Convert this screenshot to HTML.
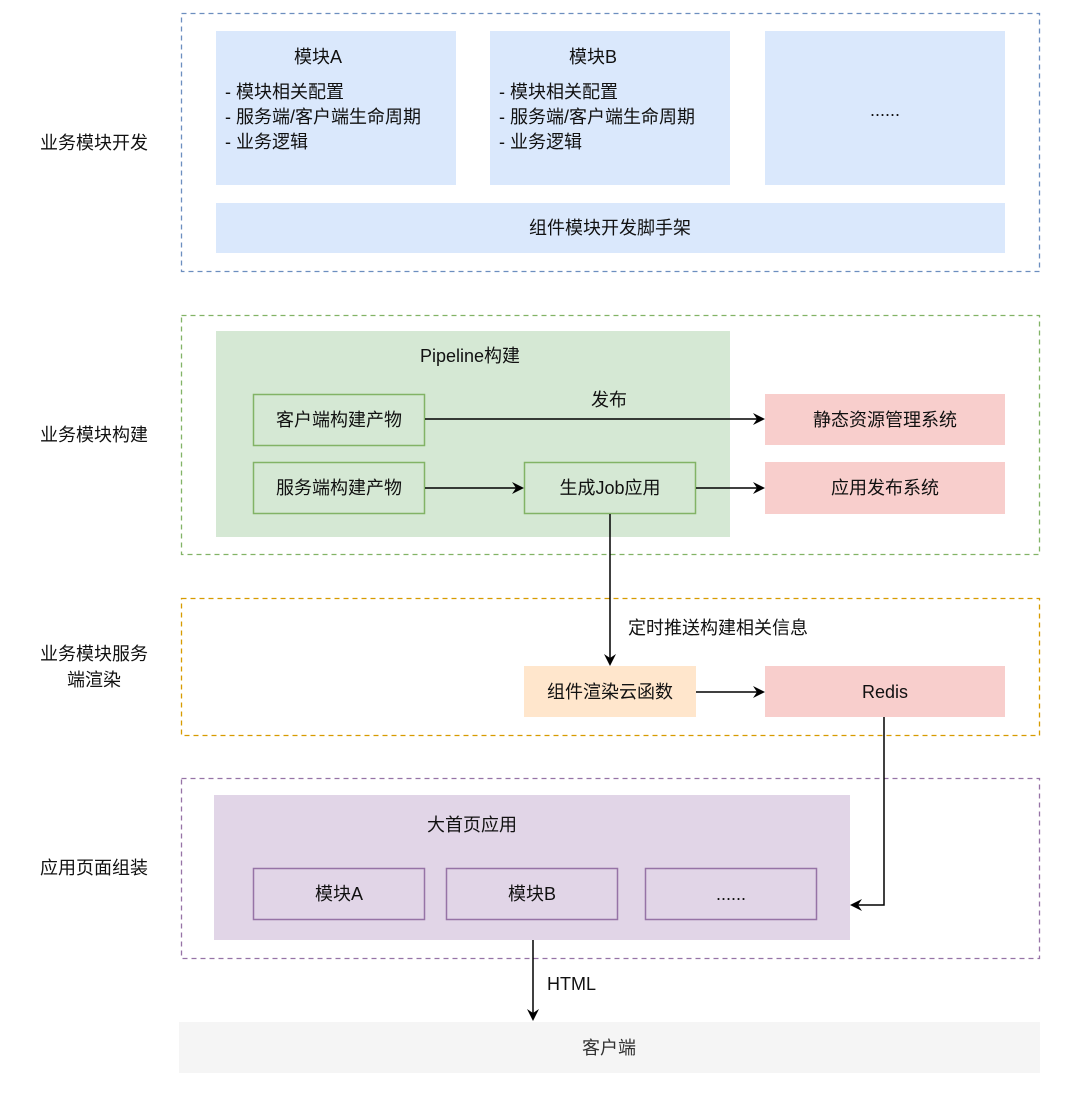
<!DOCTYPE html>
<html><head><meta charset="utf-8"><style>
html,body{margin:0;padding:0;background:#fff}
svg text{font-family:"Liberation Sans","Noto Sans CJK SC",sans-serif;font-size:18px;fill:#111}
</style></head><body>
<svg width="1080" height="1089" viewBox="0 0 1080 1089" xmlns="http://www.w3.org/2000/svg">
<defs>
<marker id="ar" markerWidth="12" markerHeight="12" refX="10" refY="6" orient="auto" markerUnits="userSpaceOnUse">
<path d="M0,0 L12,6 L0,12 L4,6 Z" fill="#000"/>
</marker>
</defs>
<!-- left labels -->
<text x="94" y="149" text-anchor="middle">业务模块开发</text>
<text x="94" y="441" text-anchor="middle">业务模块构建</text>
<text x="94" y="660" text-anchor="middle">业务模块服务</text>
<text x="94" y="686" text-anchor="middle">端渲染</text>
<text x="94" y="874" text-anchor="middle">应用页面组装</text>

<!-- section 1 -->
<rect x="181.5" y="13.5" width="858" height="258" fill="none" stroke="#6c8ebf" stroke-width="1.3" stroke-dasharray="5,4"/>
<rect x="216" y="31" width="240" height="154" fill="#dae8fc"/>
<rect x="490" y="31" width="240" height="154" fill="#dae8fc"/>
<rect x="765" y="31" width="240" height="154" fill="#dae8fc"/>
<rect x="216" y="203" width="789" height="50" fill="#dae8fc"/>
<text x="318" y="63" text-anchor="middle">模块A</text>
<text x="225" y="98">- 模块相关配置</text>
<text x="225" y="123">- 服务端/客户端生命周期</text>
<text x="225" y="148">- 业务逻辑</text>
<text x="593" y="63" text-anchor="middle">模块B</text>
<text x="499" y="98">- 模块相关配置</text>
<text x="499" y="123">- 服务端/客户端生命周期</text>
<text x="499" y="148">- 业务逻辑</text>
<text x="885" y="116" text-anchor="middle">......</text>
<text x="610" y="234" text-anchor="middle">组件模块开发脚手架</text>

<!-- section 2 -->
<rect x="181.5" y="315.5" width="858" height="239" fill="none" stroke="#82b366" stroke-width="1.3" stroke-dasharray="5,4"/>
<rect x="216" y="331" width="514" height="206" fill="#d5e8d4"/>
<text x="470" y="362" text-anchor="middle">Pipeline构建</text>
<rect x="253.5" y="394.5" width="171" height="51" fill="#d5e8d4" stroke="#82b366" stroke-width="1.5"/>
<text x="339" y="426" text-anchor="middle">客户端构建产物</text>
<rect x="253.5" y="462.5" width="171" height="51" fill="#d5e8d4" stroke="#82b366" stroke-width="1.5"/>
<text x="339" y="494" text-anchor="middle">服务端构建产物</text>
<rect x="524.5" y="462.5" width="171" height="51" fill="#d5e8d4" stroke="#82b366" stroke-width="1.5"/>
<text x="610" y="494" text-anchor="middle">生成Job应用</text>
<rect x="765" y="394" width="240" height="51" fill="#f8cecc"/>
<text x="885" y="426" text-anchor="middle">静态资源管理系统</text>
<rect x="765" y="462" width="240" height="52" fill="#f8cecc"/>
<text x="885" y="494" text-anchor="middle">应用发布系统</text>
<text x="609" y="406" text-anchor="middle">发布</text>
<line x1="425" y1="419" x2="763" y2="419" stroke="#000" stroke-width="1.5" marker-end="url(#ar)"/>
<line x1="425" y1="488" x2="522" y2="488" stroke="#000" stroke-width="1.5" marker-end="url(#ar)"/>
<line x1="696" y1="488" x2="763" y2="488" stroke="#000" stroke-width="1.5" marker-end="url(#ar)"/>

<!-- section 3 -->
<rect x="181.5" y="598.5" width="858" height="137" fill="none" stroke="#d79b00" stroke-width="1.3" stroke-dasharray="5,4"/>
<rect x="524" y="666" width="172" height="51" fill="#ffe6cc"/>
<text x="610" y="698" text-anchor="middle">组件渲染云函数</text>
<rect x="765" y="666" width="240" height="51" fill="#f8cecc"/>
<text x="885" y="698" text-anchor="middle">Redis</text>
<line x1="610" y1="514" x2="610" y2="664" stroke="#000" stroke-width="1.5" marker-end="url(#ar)"/>
<text x="628" y="634">定时推送构建相关信息</text>
<line x1="696" y1="692" x2="763" y2="692" stroke="#000" stroke-width="1.5" marker-end="url(#ar)"/>

<!-- section 4 -->
<rect x="181.5" y="778.5" width="858" height="180" fill="none" stroke="#9673a6" stroke-width="1.3" stroke-dasharray="5,4"/>
<rect x="214" y="795" width="636" height="145" fill="#e1d5e7"/>
<text x="472" y="831" text-anchor="middle">大首页应用</text>
<rect x="253.5" y="868.5" width="171" height="51" fill="#e1d5e7" stroke="#9673a6" stroke-width="1.5"/>
<text x="339" y="900" text-anchor="middle">模块A</text>
<rect x="446.5" y="868.5" width="171" height="51" fill="#e1d5e7" stroke="#9673a6" stroke-width="1.5"/>
<text x="532" y="900" text-anchor="middle">模块B</text>
<rect x="645.5" y="868.5" width="171" height="51" fill="#e1d5e7" stroke="#9673a6" stroke-width="1.5"/>
<text x="731" y="900" text-anchor="middle">......</text>
<polyline points="884,717 884,905 852,905" fill="none" stroke="#000" stroke-width="1.5" marker-end="url(#ar)"/>

<!-- client -->
<line x1="533" y1="940" x2="533" y2="1019" stroke="#000" stroke-width="1.5" marker-end="url(#ar)"/>
<text x="547" y="990">HTML</text>
<rect x="179" y="1022" width="861" height="51" fill="#f5f5f5"/>
<text x="609" y="1054" text-anchor="middle" style="fill:#333">客户端</text>
</svg>
</body></html>
